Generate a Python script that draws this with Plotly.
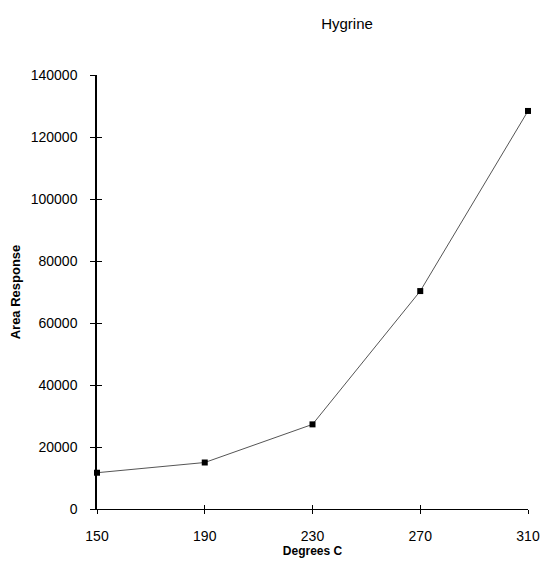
import plotly.graph_objects as go

temps = [150, 190, 230, 270, 310]
area = [11700, 15000, 27300, 70300, 128400]
x_ticks = [150, 190, 230, 270, 310]
y_ticks = [0, 20000, 40000, 60000, 80000, 100000, 120000, 140000]

FONT = "Liberation Sans, Arial, sans-serif"
W, H = 541, 564

fig = go.Figure()
fig.add_trace(go.Scatter(
    x=temps, y=area, mode="lines+markers",
    line=dict(color="#555555", width=1),
    marker=dict(symbol="square", size=6, color="black"),
    cliponaxis=False, showlegend=False,
))

common_x = dict(range=[150, 310], tickvals=x_ticks, showgrid=False, zeroline=False, automargin=False)
common_y = dict(range=[0, 140000], tickvals=y_ticks, showgrid=False, zeroline=False, automargin=False)

fig.update_layout(
    width=W, height=H,
    margin=dict(l=97, r=13, t=75, b=55),
    paper_bgcolor="white", plot_bgcolor="white",
    font=dict(family=FONT, size=14, color="black"),
    title=dict(text="Hygrine", x=347 / W, xanchor="center",
               y=1 - 24 / H, yanchor="middle",
               font=dict(family=FONT, size=15, color="black")),
    xaxis=dict(**common_x, showline=True, linecolor="black", linewidth=1,
               ticks="outside", ticklen=4, tickcolor="black", tickwidth=1,
               tickfont=dict(size=14), ticklabelstandoff=10,
               title=dict(text="<b>Degrees C</b>", font=dict(size=12), standoff=0)),
    yaxis=dict(**common_y, showline=True, linecolor="black", linewidth=1.5,
               ticks="outside", ticklen=5, tickcolor="black", tickwidth=1,
               tickfont=dict(size=14), tickformat="d", ticklabelstandoff=10,
               title=dict(text="<b>Area Response</b>", font=dict(size=13), standoff=7)),
    xaxis2=dict(**common_x, overlaying="x", anchor="y", side="bottom",
                ticks="inside", ticklen=4, tickcolor="black", tickwidth=1,
                showticklabels=False, showline=False, matches="x"),
    yaxis2=dict(**common_y, overlaying="y", anchor="x", side="left",
                ticks="inside", ticklen=5, tickcolor="black", tickwidth=1,
                showticklabels=False, showline=False, matches="y"),
)
fig.add_trace(go.Scatter(x=[temps[0]], y=[area[0]], xaxis="x2", yaxis="y2",
                         mode="markers", marker=dict(opacity=0), showlegend=False,
                         hoverinfo="skip"))
fig.write_html("out.html", config={"displayModeBar": False},
               post_script="document.body.style.margin='0';document.body.style.overflow='hidden';")
